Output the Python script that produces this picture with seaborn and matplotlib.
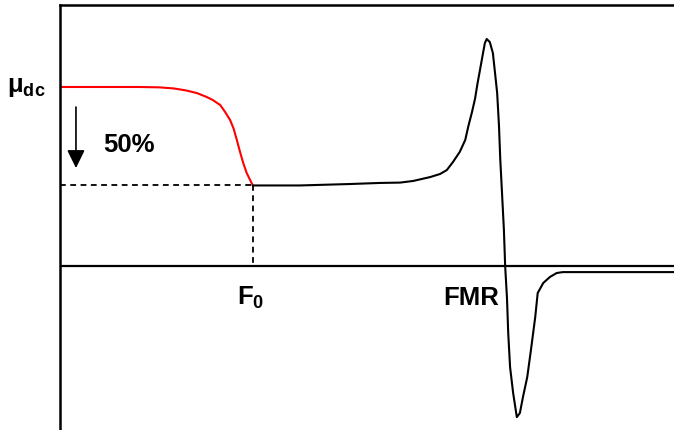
import pandas as pd
import matplotlib
matplotlib.use("Agg")
import matplotlib.pyplot as plt
import seaborn as sns

# red part: permeability drop below F0 (arbitrary units)
freq_low = [0.0, 0.65, 1.30, 1.62, 1.85, 2.05, 2.23, 2.39, 2.49, 2.61, 2.69, 2.77, 2.83, 2.88,
            2.93, 2.98, 3.04, 3.09, 3.14]
mu_low = [1.0, 1.0, 1.0, 0.998, 0.992, 0.981, 0.966, 0.944, 0.927, 0.899, 0.86, 0.816, 0.765, 0.704,
          0.64, 0.58, 0.52, 0.485, 0.45]

# black part: plateau and FMR resonance
freq_high = [3.14, 3.91, 4.72, 5.21, 5.54, 5.75, 6.03, 6.19, 6.30, 6.40, 6.51, 6.60, 6.65,
             6.71, 6.76, 6.80, 6.84, 6.89, 6.92, 6.95, 7.00, 7.05, 7.08, 7.12, 7.15, 7.17,
             7.20, 7.23, 7.25, 7.28, 7.30, 7.33, 7.38, 7.44, 7.49, 7.54, 7.61, 7.67, 7.74,
             7.78, 7.87, 7.98, 8.09, 8.19, 8.79, 10.0]
mu_high = [0.45, 0.45, 0.458, 0.464, 0.466, 0.475, 0.497, 0.514, 0.536, 0.581, 0.637, 0.704, 0.78,
           0.86, 0.935, 1.02, 1.095, 1.19, 1.246, 1.268, 1.251, 1.19, 1.095, 0.966, 0.78, 0.60,
           0.40, 0.20, 0.0, -0.18, -0.374, -0.564, -0.709, -0.844, -0.821, -0.732, -0.62, -0.469, -0.285,
           -0.151, -0.095, -0.061, -0.039, -0.034, -0.034, -0.034]

f0 = 3.14
level_50 = 0.45
mu_dc = 1.0

sns.set_style("white")
plt.rcParams['font.family'] = ['Liberation Sans', 'DejaVu Sans']
plt.rcParams['text.color'] = 'black'
plt.rcParams['mathtext.fontset'] = 'custom'
plt.rcParams['mathtext.bf'] = 'Liberation Sans:bold'
plt.rcParams['mathtext.rm'] = 'Liberation Sans:bold'
plt.rcParams['mathtext.it'] = 'Liberation Sans:bold'

low_df = pd.DataFrame({'freq': freq_low, 'mu': mu_low})
high_df = pd.DataFrame({'freq': freq_high, 'mu': mu_high})

fig = plt.figure(figsize=(6.74, 4.30), dpi=100)
ax = fig.add_axes([60 / 674, 0, 614 / 674, 425 / 430])

sns.lineplot(data=low_df, x='freq', y='mu', color='#ff0000', lw=1.5, ax=ax, sort=False)
sns.lineplot(data=high_df, x='freq', y='mu', color='black', lw=1.5, ax=ax, sort=False)

ax.axhline(0, color='black', lw=1.6)

# dashed guides to F0 / 50% level
ax.plot([0, f0], [level_50, level_50], color='black', lw=1.3, ls=(0, (3.2, 2.5)))
ax.plot([f0, f0], [level_50, 0], color='black', lw=1.3, ls=(0, (3.2, 2.5)))

# arrow showing 50% drop
ax.annotate('', xy=(0.26, 0.547), xytext=(0.26, 0.888),
            arrowprops=dict(arrowstyle='-|>,head_length=0.55,head_width=0.27',
                            color='black', lw=1.2, mutation_scale=20, shrinkA=0, shrinkB=0))

ax.text(0.70, 0.637, '50%', fontsize=18.5, fontweight='bold', va='baseline', ha='left')
ax.text(2.88, -0.218, r'$\mathbf{F_0}$', fontsize=18.5, va='baseline', ha='left')
ax.text(6.24, -0.218, 'FMR', fontsize=18.5, fontweight='bold', va='baseline', ha='left')
ax.text(-0.23, mu_dc, r'$\mathbf{\mu_{dc}}$', fontsize=18.5, va='center', ha='right', clip_on=False)

ax.set_xlim(0, 10)
ax.set_ylim(-0.916, 1.458)
ax.set_xticks([])
ax.set_yticks([])
ax.set_xlabel('')
ax.set_ylabel('')
for side in ['right', 'bottom']:
    ax.spines[side].set_visible(False)
for side in ['left', 'top']:
    ax.spines[side].set_color('black')
    ax.spines[side].set_linewidth(1.8)

fig.savefig('out.png', dpi=100)
